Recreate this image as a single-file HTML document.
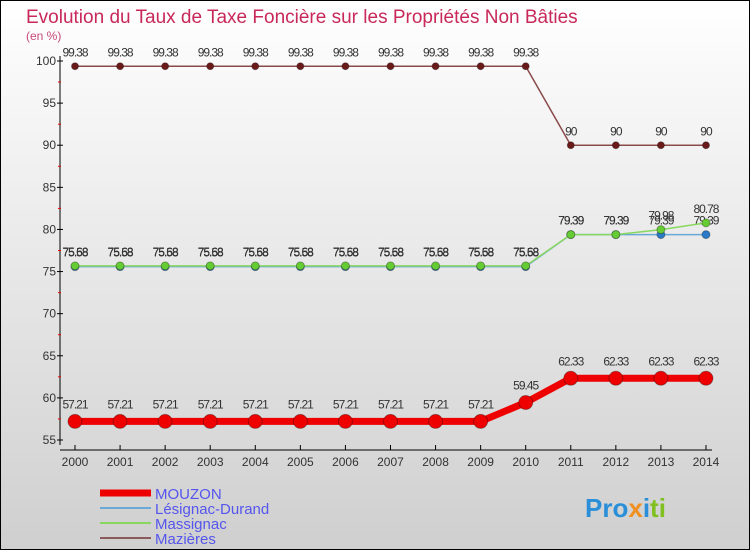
<!DOCTYPE html>
<html><head><meta charset="utf-8"><style>
body{margin:0}
#c{width:750px;height:550px;position:relative;overflow:hidden;font-family:"Liberation Sans",sans-serif}
</style></head><body>
<div id="c">
<svg id="s" width="750" height="550" xmlns="http://www.w3.org/2000/svg">
<defs><linearGradient id="bg" x1="0" y1="0" x2="0" y2="1"><stop offset="0" stop-color="#ffffff"/><stop offset="1" stop-color="#cfcfcf"/></linearGradient></defs>
<rect x="0.5" y="0.5" width="749" height="549" fill="url(#bg)" stroke="#000"/>
<text x="26" y="23" font-size="19" fill="#c8285a">Evolution du Taux de Taxe Foncière sur les Propriétés Non Bâties</text>
<text x="26" y="40" font-size="12" fill="#c8487a">(en %)</text>
<g id="axes"></g><g id="series"></g><g id="legend"></g>
<text x="585" y="517" font-size="26" font-weight="bold" fill="#2a8fd8">Pro<tspan fill="#f09020">x</tspan><tspan fill="#2a8fd8">i</tspan><tspan fill="#80c020">ti</tspan></text>
</svg></div>
<script>
const years=[2000,2001,2002,2003,2004,2005,2006,2007,2008,2009,2010,2011,2012,2013,2014];
const yTicks=[55,60,65,70,75,80,85,90,95,100];
const mouzon=[57.21,57.21,57.21,57.21,57.21,57.21,57.21,57.21,57.21,57.21,59.45,62.33,62.33,62.33,62.33];
const lesignac=[75.58,75.58,75.58,75.58,75.58,75.58,75.58,75.58,75.58,75.58,75.58,79.39,79.39,79.39,79.39];
const massignac=[75.68,75.68,75.68,75.68,75.68,75.68,75.68,75.68,75.68,75.68,75.68,79.39,79.39,79.98,80.78];
const mazieres=[99.38,99.38,99.38,99.38,99.38,99.38,99.38,99.38,99.38,99.38,99.38,90,90,90,90];
const NS="http://www.w3.org/2000/svg";
const X=i=>75+i*45.07, Y=v=>440-(v-55)*(379/45);
function mk(p,t,a){const e=document.createElementNS(NS,t);for(const k in a)e.setAttribute(k,a[k]);p.appendChild(e);return e;}
const ax=document.getElementById('axes');
let e=mk(ax,'line',{x1:60,y1:56,x2:60,y2:445,stroke:'#000'});

e=mk(ax,'line',{x1:60,y1:450,x2:712,y2:450,stroke:'#000'});

yTicks.forEach(v=>{mk(ax,'line',{x1:57,y1:Y(v),x2:63,y2:Y(v),stroke:'#000'});
 if(v<100)mk(ax,'line',{x1:58,y1:Y(v+2.5),x2:61,y2:Y(v+2.5),stroke:'#e00'});
 const t=mk(ax,'text',{x:56,y:Y(v)+4,'font-size':12,'text-anchor':'end',fill:'#333'});t.textContent=v;
 });
years.forEach((y,i)=>{mk(ax,'line',{x1:X(i),y1:445,x2:X(i),y2:450,stroke:'#000'});
 const t=mk(ax,'text',{x:X(i),y:466,'font-size':12,'text-anchor':'middle',fill:'#333'});t.textContent=y;
 });
const sg=document.getElementById('series');
function series(name,data,col,w,r,dot,lab){
 const g=mk(sg,'g',{});
 mk(g,'polyline',{points:data.map((v,i)=>X(i)+','+Y(v)).join(' '),fill:'none',stroke:col,'stroke-width':w});
 data.forEach((v,i)=>{const c=mk(g,'circle',{cx:X(i),cy:Y(v),r:r,fill:dot,stroke:'rgba(0,0,0,0.3)'});
  
  if(lab){const t=mk(g,'text',{x:X(i),y:Y(v)-r-6,'font-size':12,'text-anchor':'middle',fill:'#333','letter-spacing':'-1'});t.textContent=v;
  }});
}
series('mazieres',mazieres,'#8b4a4a',1.5,3.5,'#6b1a1a',true);
series('lesignac',lesignac,'#6aa8d8',1.5,4,'#2a7ac8',true);
series('massignac',massignac,'#88d860',1.5,4,'#66cc33',true);
series('mouzon',mouzon,'#ee0000',7,7,'#ee0000',true);
const lg=document.getElementById('legend');
[['MOUZON','#ee0000',7],['Lésignac-Durand','#6aa8d8',2],['Massignac','#88d860',2],['Mazières','#8b5a5a',2]].forEach((d,i)=>{
 const g=mk(lg,'g',{});
 mk(g,'line',{x1:100,y1:493+i*15,x2:151,y2:493+i*15,stroke:d[1],'stroke-width':d[2]});
 const t=mk(g,'text',{x:155,y:499+i*15,'font-size':15,fill:'#5555ee'});t.textContent=d[0];});
</script>
</body></html>
